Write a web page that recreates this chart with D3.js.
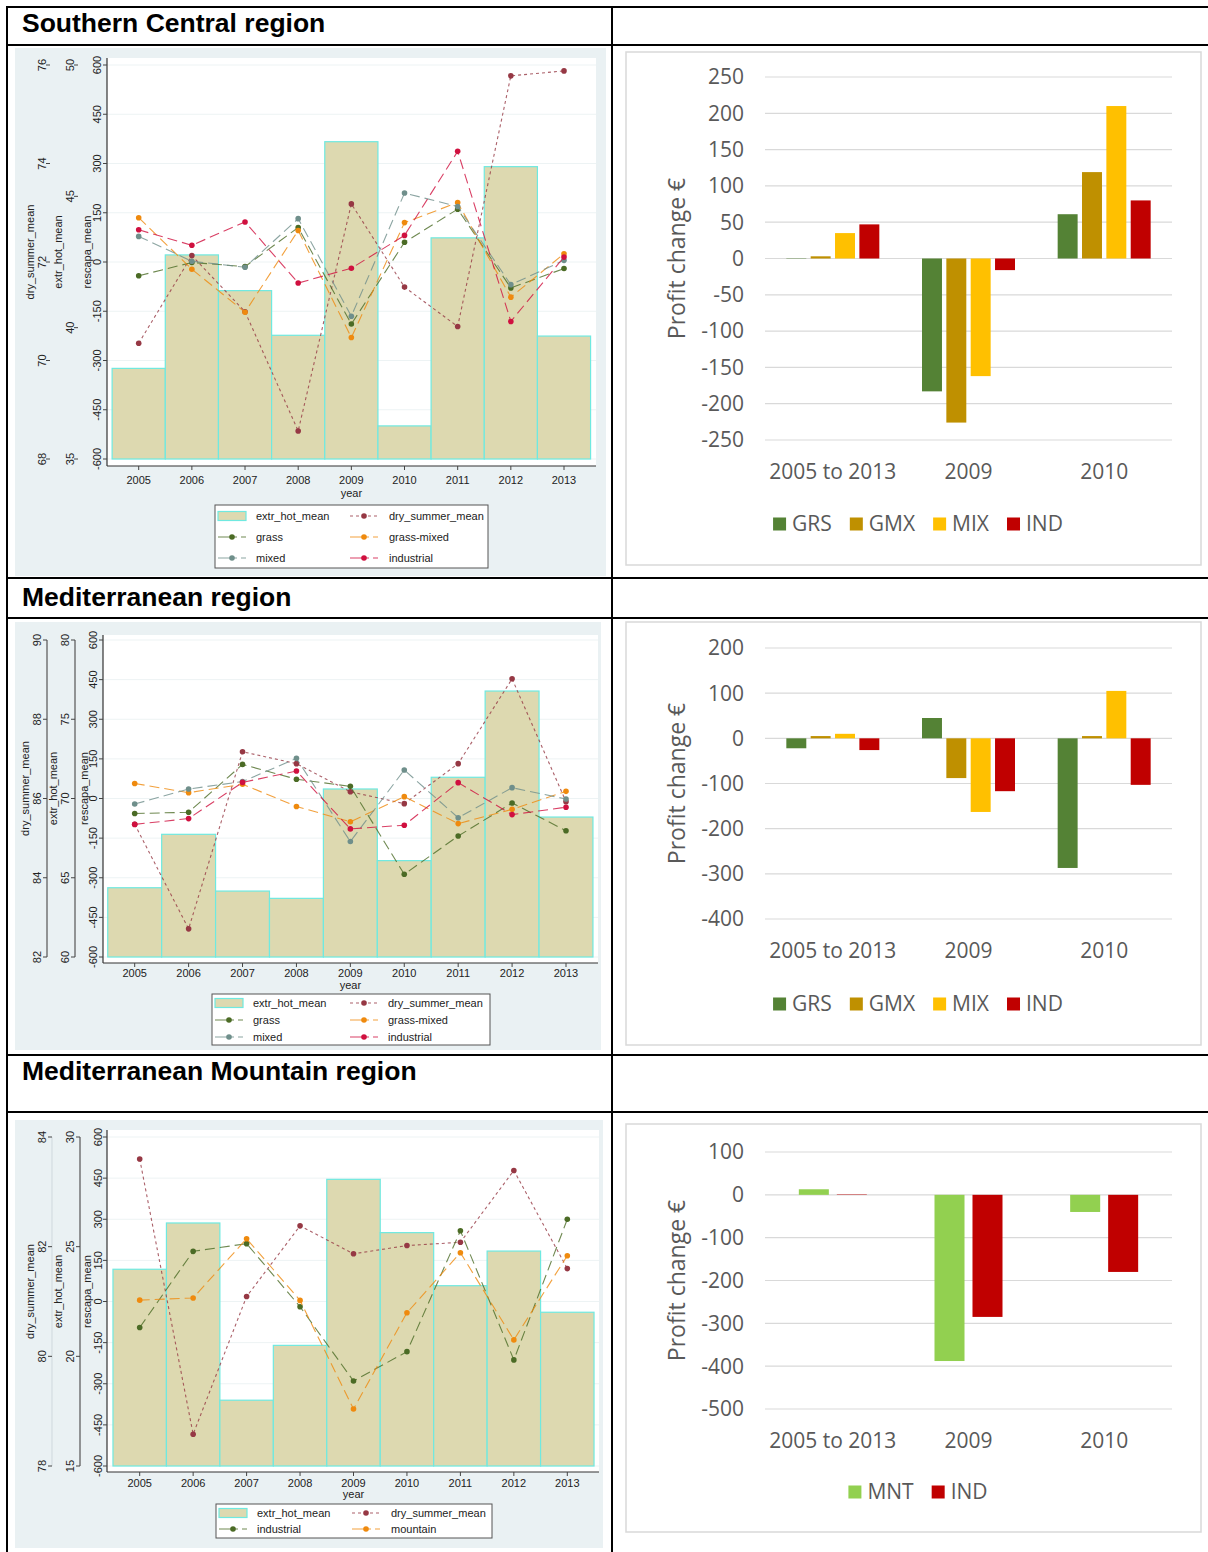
<!DOCTYPE html>
<html><head><meta charset="utf-8">
<script src="https://cdn.jsdelivr.net/npm/d3@7"></script>
<style>body{margin:0;background:#fff}svg{display:block}</style>
</head><body>
<svg id="c" width="1208" height="1552"></svg>
<script>
// ---------- DATA ----------
const years = [2005, 2006, 2007, 2008, 2009, 2010, 2011, 2012, 2013];
const rescapaTicks = [-600, -450, -300, -150, 0, 150, 300, 450, 600];

// Southern Central region (Stata panel)
const scExtrTicks = [35, 40, 45, 50];
const scDryTicks = [68, 70, 72, 74, 76];
const scExtrHot = [38.45, 42.77, 41.41, 39.71, 47.08, 36.26, 43.42, 46.13, 39.68];
const scDrySummer = [70.35, 72.13, 70.99, 68.57, 73.18, 71.49, 70.69, 75.78, 75.88];
const scGrass = [-42, -1.5, -14, 105, -189, 60, 161, -79, -20];
const scGrassMixed = [135, -22, -153, 96, -230, 120, 181, -107, 25];
const scMixed = [78, 2.5, -16, 132, -165, 210, 169, -69, 5];
const scIndustrial = [98, 51, 122, -64, -19, 81, 337, -181, 15];

// Mediterranean region
const medExtrTicks = [60, 65, 70, 75, 80];
const medDryTicks = [82, 84, 86, 88, 90];
const medExtrHot = [64.37, 67.74, 64.16, 63.7, 70.6, 66.08, 71.34, 76.78, 68.83];
const medDrySummer = [85.35, 82.71, 87.18, 86.88, 86.17, 85.87, 86.88, 89.02, 85.92];
const medGrass = [-57, -52, 129, 73, 46, -287, -142, -17, -122];
const medGrassMixed = [57, 22, 54, -30, -88, 7, -95, -41, 27];
const medMixed = [-21, 36, 64, 152, -163, 108, -73, 41, -2];
const medIndustrial = [-98, -76, 61, 104, -115, -101, 60, -61, -33];

// Mediterranean Mountain region
const mtnExtrTicks = [15, 20, 25, 30];
const mtnDryTicks = [78, 80, 82, 84];
const mtnExtrHot = [23.97, 26.08, 18.0, 20.5, 28.07, 25.64, 23.22, 24.8, 22.01];
const mtnDrySummer = [83.6, 78.58, 81.09, 82.38, 81.87, 82.02, 82.08, 83.39, 81.6];
const mtnIndustrial = [-95, 183, 211, -19, -290, -183, 258, -213, 300];
const mtnMountain = [5, 13, 229, 4, -392, -41, 178, -140, 167];

// Profit change charts
const profitCategories = ["2005 to 2013", "2009", "2010"];
const scProfitTicks = [-250, -200, -150, -100, -50, 0, 50, 100, 150, 200, 250];
const scGRS = [0.5, -183, 61];
const scGMX = [3, -226, 119];
const scMIX = [35, -162, 210];
const scIND = [47, -16, 80];
const medProfitTicks = [-400, -300, -200, -100, 0, 100, 200];
const medGRS = [-22, 45, -287];
const medGMX = [5, -88, 5];
const medMIX = [10, -163, 105];
const medIND = [-26, -117, -103];
const mtnProfitTicks = [-500, -400, -300, -200, -100, 0, 100];
const mtnMNT = [13, -388, -40];
const mtnIND = [1, -285, -180];

// ---------- DRAWING ----------
const svg = d3.select("#c");
const STATA_FONT = "'Liberation Sans', Arial, sans-serif";
const XL_FONT = "'Open Sans', sans-serif";
const SF = 11;
const C = {
  bar: "#ddd9b0", barStroke: "#6fe9e0",
  dry: "#963844", grass: "#4b6b25", gmix: "#ef8a0e", mixed: "#6f8f8b", ind: "#d0103f"
};

function stataPanel(c) {
  const g = svg.append("g");
  g.append("rect").attr("x", c.bg[0]).attr("y", c.bg[1])
    .attr("width", c.bg[2] - c.bg[0]).attr("height", c.bg[3] - c.bg[1]).attr("fill", "#eaf1f3");
  g.append("rect").attr("x", c.plot[0]).attr("y", c.plot[1])
    .attr("width", c.plot[2] - c.plot[0]).attr("height", c.plot[3] - c.plot[1]).attr("fill", "#fff");

  const x = d3.scaleLinear().domain([years[0], years[years.length - 1]]).range(c.xRange);
  const yRes = d3.scaleLinear().domain([-600, 600]).range(c.yRange);
  const yExtr = d3.scaleLinear().domain([c.extrTicks[0], c.extrTicks[c.extrTicks.length - 1]]).range(c.yRange);
  const yDry = d3.scaleLinear().domain([c.dryTicks[0], c.dryTicks[c.dryTicks.length - 1]]).range(c.yRange);

  g.selectAll(null).data(rescapaTicks).join("line")
    .attr("x1", c.plot[0]).attr("x2", c.plot[2])
    .attr("y1", d => yRes(d)).attr("y2", d => yRes(d))
    .attr("stroke", "#edf3f4").attr("stroke-width", 1);

  g.selectAll(null).data(c.extr).join("rect")
    .attr("x", (d, i) => x(years[i] - 0.5))
    .attr("width", (d, i) => x(years[i] + 0.5) - x(years[i] - 0.5))
    .attr("y", d => yExtr(d))
    .attr("height", d => yExtr.range()[0] - yExtr(d))
    .attr("fill", C.bar).attr("stroke", C.barStroke).attr("stroke-width", 1.2);

  const lines = [{ values: c.dry, scale: yDry, color: C.dry, dash: "3,3" }]
    .concat(c.series.map(s => ({ values: s.values, scale: yRes, color: s.color, dash: "10,5" })));
  lines.forEach(l => {
    const line = d3.line().x((d, i) => x(years[i])).y(d => l.scale(d));
    g.append("path").datum(l.values).attr("d", line).attr("fill", "none")
      .attr("stroke", l.color).attr("stroke-width", 1.1).attr("stroke-opacity", 0.8)
      .attr("stroke-dasharray", l.dash);
    g.selectAll(null).data(l.values).join("circle")
      .attr("cx", (d, i) => x(years[i])).attr("cy", d => l.scale(d)).attr("r", 2.8)
      .attr("fill", l.color);
  });

  g.append("line").attr("x1", c.plot[0]).attr("x2", c.plot[0]).attr("y1", c.plot[1]).attr("y2", c.plot[3])
    .attr("stroke", "#333").attr("stroke-width", 1.2);
  g.append("line").attr("x1", c.plot[0]).attr("x2", c.plot[2]).attr("y1", c.plot[3]).attr("y2", c.plot[3])
    .attr("stroke", "#333").attr("stroke-width", 1.2);

  const axes = [
    { ticks: c.dryTicks, scale: yDry, a: c.dryAx, title: "dry_summer_mean" },
    { ticks: c.extrTicks, scale: yExtr, a: c.extrAx, title: "extr_hot_mean" },
    { ticks: rescapaTicks, scale: yRes, a: c.resAx, title: "rescapa_mean" }
  ];
  axes.forEach(ax => {
    if (ax.a.lineColor) {
      g.append("line").attr("x1", ax.a.line).attr("x2", ax.a.line)
        .attr("y1", c.yRange[0]).attr("y2", c.yRange[1])
        .attr("stroke", ax.a.lineColor).attr("stroke-width", 1.2);
    }
    g.selectAll(null).data(ax.ticks).join("line")
      .attr("x1", ax.a.line - 4).attr("x2", ax.a.line)
      .attr("y1", d => ax.scale(d)).attr("y2", d => ax.scale(d))
      .attr("stroke", "#444").attr("stroke-width", 1);
    g.selectAll(null).data(ax.ticks).join("text")
      .attr("transform", d => `translate(${ax.a.label},${ax.scale(d)}) rotate(-90)`)
      .attr("dy", "0.35em").attr("text-anchor", "middle")
      .attr("font-family", STATA_FONT).attr("font-size", SF).attr("fill", "#222")
      .text(d => d);
    g.append("text")
      .attr("transform", `translate(${ax.a.title},${(c.yRange[0] + c.yRange[1]) / 2 - 10}) rotate(-90)`)
      .attr("dy", "0.35em").attr("text-anchor", "middle")
      .attr("font-family", STATA_FONT).attr("font-size", SF).attr("fill", "#222")
      .text(ax.title);
  });

  g.selectAll(null).data(years).join("line")
    .attr("x1", d => x(d)).attr("x2", d => x(d))
    .attr("y1", c.plot[3]).attr("y2", c.plot[3] + 4)
    .attr("stroke", "#444");
  g.selectAll(null).data(years).join("text")
    .attr("x", d => x(d)).attr("y", c.xLabelY).attr("dy", "0.35em")
    .attr("text-anchor", "middle").attr("font-family", STATA_FONT).attr("font-size", SF).attr("fill", "#222")
    .text(d => d);
  g.append("text").attr("x", (c.xRange[0] + c.xRange[1]) / 2).attr("y", c.yearY).attr("dy", "0.35em")
    .attr("text-anchor", "middle").attr("font-family", STATA_FONT).attr("font-size", SF).attr("fill", "#222")
    .text("year");

  const L = c.legend;
  g.append("rect").attr("x", L.box[0]).attr("y", L.box[1])
    .attr("width", L.box[2] - L.box[0]).attr("height", L.box[3] - L.box[1])
    .attr("fill", "#fff").attr("stroke", "#555").attr("stroke-width", 1);
  const items = [{ type: "bar", label: "extr_hot_mean" },
    { type: "line", label: "dry_summer_mean", color: C.dry, dash: "3,3" }]
    .concat(c.series.map(s => ({ type: "line", label: s.name, color: s.color, dash: "19,4" })));
  items.forEach((it, k) => {
    const row = Math.floor(k / 2), col = k % 2;
    const cy = L.rows[row];
    const sx = col === 0 ? L.col1[0] : L.col2[0];
    const tx = col === 0 ? L.col1[1] : L.col2[1];
    if (it.type === "bar") {
      g.append("rect").attr("x", sx).attr("y", cy - 4.5).attr("width", 28).attr("height", 9)
        .attr("fill", C.bar).attr("stroke", C.barStroke).attr("stroke-width", 1.2);
    } else {
      g.append("line").attr("x1", sx).attr("x2", sx + 28).attr("y1", cy).attr("y2", cy)
        .attr("stroke", it.color).attr("stroke-width", 1.1).attr("stroke-opacity", 0.8)
        .attr("stroke-dasharray", it.dash);
      g.append("circle").attr("cx", sx + 14).attr("cy", cy).attr("r", 2.8).attr("fill", it.color);
    }
    g.append("text").attr("x", tx).attr("y", cy).attr("dy", "0.35em")
      .attr("font-family", STATA_FONT).attr("font-size", SF).attr("fill", "#222").text(it.label);
  });
}

function profitChart(c) {
  const g = svg.append("g");
  g.append("rect").attr("x", c.box[0]).attr("y", c.box[1])
    .attr("width", c.box[2] - c.box[0]).attr("height", c.box[3] - c.box[1])
    .attr("fill", "#fff").attr("stroke", "#d9d9d9").attr("stroke-width", 1.5);
  const y = d3.scaleLinear().domain([c.ticks[0], c.ticks[c.ticks.length - 1]]).range(c.yRange);
  const x0 = d3.scaleBand().domain(profitCategories).range(c.plotX);
  const x1 = d3.scaleBand().domain(c.series.map(s => s.name)).range([0, c.groupWidth]).paddingInner(c.innerPad);
  g.selectAll(null).data(c.ticks).join("line")
    .attr("x1", c.plotX[0]).attr("x2", c.plotX[1])
    .attr("y1", d => y(d)).attr("y2", d => y(d))
    .attr("stroke", "#d9d9d9").attr("stroke-width", 1.2);
  g.selectAll(null).data(c.ticks).join("text")
    .attr("x", c.plotX[0] - 21).attr("y", d => y(d)).attr("dy", "0.35em")
    .attr("text-anchor", "end").attr("font-family", XL_FONT).attr("font-size", 21).attr("fill", "#595959")
    .text(d => d);
  c.series.forEach(s => {
    g.selectAll(null).data(s.values).join("rect")
      .attr("x", (d, i) => x0(profitCategories[i]) + (x0.bandwidth() - c.groupWidth) / 2 + x1(s.name))
      .attr("width", x1.bandwidth())
      .attr("y", d => Math.min(y(d), y(0)))
      .attr("height", d => Math.abs(y(d) - y(0)))
      .attr("fill", s.color);
  });
  g.selectAll(null).data(profitCategories).join("text")
    .attr("x", d => x0(d) + x0.bandwidth() / 2).attr("y", c.yRange[0] + 32).attr("dy", "0.35em")
    .attr("text-anchor", "middle").attr("font-family", XL_FONT).attr("font-size", 21).attr("fill", "#595959")
    .text(d => d);
  g.append("text")
    .attr("transform", `translate(${c.titleX},${(c.yRange[0] + c.yRange[1]) / 2}) rotate(-90)`)
    .attr("dy", "0.35em").attr("text-anchor", "middle")
    .attr("font-family", XL_FONT).attr("font-size", 23).attr("fill", "#595959")
    .text("Profit change €");
  const lg = g.append("g");
  let cx = 0;
  c.series.forEach(s => {
    lg.append("rect").attr("x", cx).attr("y", -6.5).attr("width", 13).attr("height", 13).attr("fill", s.color);
    const t = lg.append("text").attr("x", cx + 19).attr("y", 0).attr("dy", "0.35em")
      .attr("font-family", XL_FONT).attr("font-size", 21).attr("fill", "#595959").text(s.name);
    cx += 19 + t.node().getComputedTextLength() + 18;
  });
  const total = cx - 18;
  lg.attr("transform", `translate(${c.legendCx - total / 2},${c.legendY})`);
}

// ---------- PANELS ----------
stataPanel({
  bg: [15, 48, 606, 576], plot: [107, 58, 596, 466], yRange: [459, 65], xRange: [138.7, 564],
  extrTicks: scExtrTicks, dryTicks: scDryTicks, extr: scExtrHot, dry: scDrySummer,
  series: [{ name: "grass", values: scGrass, color: C.grass },
    { name: "grass-mixed", values: scGrassMixed, color: C.gmix },
    { name: "mixed", values: scMixed, color: C.mixed },
    { name: "industrial", values: scIndustrial, color: C.ind }],
  dryAx: { line: 50, label: 42, title: 30, lineColor: null },
  extrAx: { line: 78, label: 70, title: 58, lineColor: null },
  resAx: { line: 107, label: 97, title: 87, lineColor: null },
  xLabelY: 480, yearY: 493,
  legend: { box: [215, 505, 488, 568], rows: [516, 537, 558], col1: [218, 256], col2: [350, 389] }
});

stataPanel({
  bg: [15, 622, 601, 1050], plot: [103, 635, 598, 963], yRange: [957, 640], xRange: [134.7, 566],
  extrTicks: medExtrTicks, dryTicks: medDryTicks, extr: medExtrHot, dry: medDrySummer,
  series: [{ name: "grass", values: medGrass, color: C.grass },
    { name: "grass-mixed", values: medGrassMixed, color: C.gmix },
    { name: "mixed", values: medMixed, color: C.mixed },
    { name: "industrial", values: medIndustrial, color: C.ind }],
  dryAx: { line: 47, label: 37, title: 25, lineColor: "#555" },
  extrAx: { line: 75, label: 65, title: 53, lineColor: "#555" },
  resAx: { line: 103, label: 93, title: 84, lineColor: null },
  xLabelY: 973, yearY: 985,
  legend: { box: [212, 994, 490, 1045], rows: [1003, 1020, 1037], col1: [215, 253], col2: [350, 388] }
});

stataPanel({
  bg: [15, 1120, 603, 1548], plot: [107, 1130, 599, 1472], yRange: [1466, 1137], xRange: [139.7, 567.3],
  extrTicks: mtnExtrTicks, dryTicks: mtnDryTicks, extr: mtnExtrHot, dry: mtnDrySummer,
  series: [{ name: "industrial", values: mtnIndustrial, color: C.grass },
    { name: "mountain", values: mtnMountain, color: C.gmix }],
  dryAx: { line: 52, label: 42, title: 30, lineColor: "#d3dde1" },
  extrAx: { line: 80, label: 70, title: 58, lineColor: "#555" },
  resAx: { line: 107, label: 98, title: 87, lineColor: null },
  xLabelY: 1483, yearY: 1494,
  legend: { box: [216, 1504, 492, 1538], rows: [1513, 1529], col1: [219, 257], col2: [352, 391] }
});

profitChart({
  box: [626, 52, 1201, 565], plotX: [765, 1172], yRange: [440, 77], ticks: scProfitTicks,
  series: [{ name: "GRS", values: scGRS, color: "#548235" }, { name: "GMX", values: scGMX, color: "#bf9000" },
    { name: "MIX", values: scMIX, color: "#ffc000" }, { name: "IND", values: scIND, color: "#c00000" }],
  groupWidth: 93, innerPad: 0.18, titleX: 677, legendY: 524, legendCx: 918
});
profitChart({
  box: [626, 622, 1201, 1045], plotX: [765, 1172], yRange: [919, 648], ticks: medProfitTicks,
  series: [{ name: "GRS", values: medGRS, color: "#548235" }, { name: "GMX", values: medGMX, color: "#bf9000" },
    { name: "MIX", values: medMIX, color: "#ffc000" }, { name: "IND", values: medIND, color: "#c00000" }],
  groupWidth: 93, innerPad: 0.18, titleX: 677, legendY: 1004, legendCx: 918
});
profitChart({
  box: [626, 1124, 1201, 1532], plotX: [765, 1172], yRange: [1409, 1152], ticks: mtnProfitTicks,
  series: [{ name: "MNT", values: mtnMNT, color: "#92d050" }, { name: "IND", values: mtnIND, color: "#c00000" }],
  groupWidth: 68, innerPad: 0.21, titleX: 677, legendY: 1492, legendCx: 918
});

// ---------- TABLE ----------
const headers = [
  { text: "Southern Central region", y: 32 },
  { text: "Mediterranean region", y: 606 },
  { text: "Mediterranean Mountain region", y: 1080 }
];
svg.selectAll(null).data(headers).join("text")
  .attr("x", 22).attr("y", d => d.y)
  .attr("font-family", STATA_FONT).attr("font-weight", "bold").attr("font-size", 26.5).attr("fill", "#000")
  .text(d => d.text);
const hLines = [7, 45, 578, 618, 1055, 1112];
svg.selectAll(null).data(hLines).join("line")
  .attr("x1", 6).attr("x2", 1208).attr("y1", d => d).attr("y2", d => d)
  .attr("stroke", "#000").attr("stroke-width", 2);
svg.selectAll(null).data([7, 612]).join("line")
  .attr("x1", d => d).attr("x2", d => d).attr("y1", 6).attr("y2", 1552)
  .attr("stroke", "#000").attr("stroke-width", 2);
</script>
</body></html>
